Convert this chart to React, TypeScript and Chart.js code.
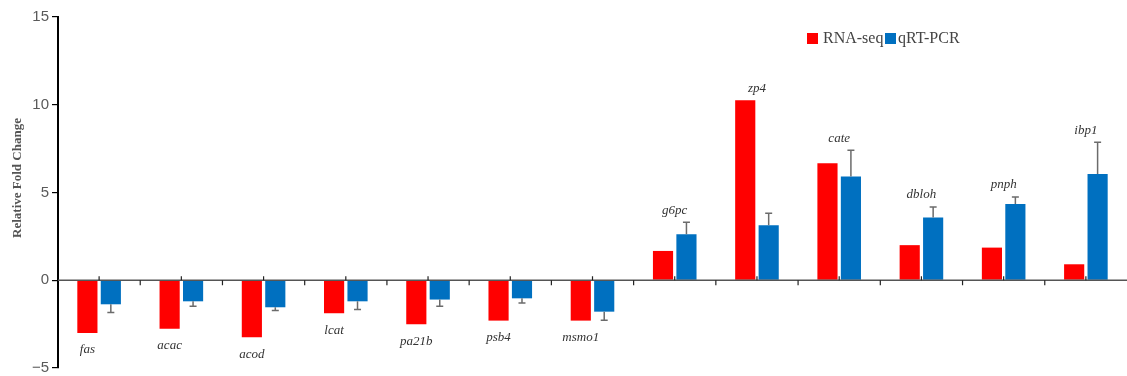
import React, { useEffect, useRef } from "react";
import { Chart, registerables } from "chart.js";

Chart.register(...registerables);

const categories = ["fas", "acac", "acod", "lcat", "pa21b", "psb4", "msmo1", "g6pc", "zp4", "cate", "dbloh", "pnph", "ibp1"];
const rnaSeq = [-3.0, -2.76, -3.25, -1.88, -2.51, -2.3, -2.3, 1.67, 10.25, 6.67, 2.0, 1.86, 0.91];
const qrtPcr = [-1.37, -1.2, -1.54, -1.2, -1.1, -1.03, -1.79, 2.62, 3.14, 5.91, 3.58, 4.35, 6.06];
const qrtPcrErr = [0.47, 0.28, 0.19, 0.47, 0.38, 0.26, 0.49, 0.68, 0.68, 1.5, 0.6, 0.4, 1.81];
const yTicks = [-5, 0, 5, 10, 15];
const seriesNames = ["RNA-seq", "qRT-PCR"];
const yTitle = "Relative Fold Change";

const RED = "#ff0000";
const BLUE = "#0070c0";

const overlayPlugin = {
  id: "overlay",
  afterDatasetsDraw(chart: any) {
    const ctx = chart.ctx;
    const y = chart.scales.y;
    const x = chart.scales.x;
    const area = chart.chartArea;
    const m0 = chart.getDatasetMeta(0);
    const m1 = chart.getDatasetMeta(1);
    const y0 = y.getPixelForValue(0);
    ctx.save();

    // error bars (one-sided, away from zero)
    ctx.strokeStyle = "#6b6b6b";
    ctx.lineWidth = 1.5;
    qrtPcr.forEach((v, i) => {
      const bar = m1.data[i];
      const end = v >= 0 ? v + qrtPcrErr[i] : v - qrtPcrErr[i];
      const py1 = y.getPixelForValue(v);
      const py2 = y.getPixelForValue(end);
      ctx.beginPath();
      ctx.moveTo(bar.x, py1);
      ctx.lineTo(bar.x, py2);
      ctx.moveTo(bar.x - 3.5, py2);
      ctx.lineTo(bar.x + 3.5, py2);
      ctx.stroke();
    });

    // x axis line at zero with ticks
    ctx.strokeStyle = "#555";
    ctx.lineWidth = 1.5;
    ctx.beginPath();
    ctx.moveTo(area.left, y0);
    ctx.lineTo(area.right, y0);
    ctx.stroke();
    ctx.strokeStyle = "#222";
    ctx.lineWidth = 1.2;
    categories.forEach((_, i) => {
      const cx = x.getPixelForValue(i);
      ctx.beginPath();
      ctx.moveTo(cx, y0);
      ctx.lineTo(cx, y0 - 4);
      ctx.stroke();
      if (i > 0) {
        const bx = (x.getPixelForValue(i - 1) + cx) / 2;
        ctx.beginPath();
        ctx.moveTo(bx, y0);
        ctx.lineTo(bx, y0 + 5);
        ctx.stroke();
      }
    });

    // gene labels
    ctx.fillStyle = "#333";
    ctx.font = "italic 13px 'Liberation Serif', 'Times New Roman', serif";
    ctx.textAlign = "center";
    ctx.textBaseline = "middle";
    categories.forEach((name, i) => {
      const r = rnaSeq[i];
      const q = qrtPcr[i];
      if (r < 0) {
        const bar = m0.data[i];
        ctx.fillText(name, bar.x, y.getPixelForValue(r) + 17);
      } else {
        const top = Math.max(r, q + qrtPcrErr[i]);
        ctx.fillText(name, x.getPixelForValue(i), y.getPixelForValue(top) - 12);
      }
    });

    // legend
    ctx.font = "16px 'Liberation Serif', 'Times New Roman', serif";
    ctx.textAlign = "left";
    ctx.fillStyle = RED;
    ctx.fillRect(807, 33, 11, 11);
    ctx.fillStyle = "#444";
    ctx.fillText(seriesNames[0], 823, 38.5);
    ctx.fillStyle = BLUE;
    ctx.fillRect(885, 33, 11, 11);
    ctx.fillStyle = "#444";
    ctx.fillText(seriesNames[1], 898, 38.5);

    // y title
    ctx.save();
    ctx.translate(18, 178);
    ctx.rotate(-Math.PI / 2);
    ctx.textAlign = "center";
    ctx.font = "bold 13px 'Liberation Serif', 'Times New Roman', serif";
    ctx.fillStyle = "#555";
    ctx.fillText(yTitle, 0, 0);
    ctx.restore();

    ctx.restore();
  },
};

export default function App() {
  const ref = useRef<HTMLCanvasElement>(null);
  useEffect(() => {
    document.body.style.margin = "0";
    const chart = new Chart(ref.current!, {
      type: "bar",
      data: {
        labels: categories,
        datasets: [
          { label: seriesNames[0], data: rnaSeq, backgroundColor: RED, categoryPercentage: 0.57, barPercentage: 0.86 },
          { label: seriesNames[1], data: qrtPcr, backgroundColor: BLUE, categoryPercentage: 0.57, barPercentage: 0.86 },
        ],
      },
      options: {
        animation: false,
        responsive: false,
        layout: { padding: { top: 17, bottom: 8, left: 0, right: 0 } },
        plugins: { legend: { display: false }, tooltip: { enabled: false } },
        scales: {
          x: { display: false, offset: true },
          y: {
            min: -5,
            max: 15,
            afterFit: (s: any) => {
              s.width = 58;
              s.paddingTop = 0;
              s.paddingBottom = 0;
            },
            afterBuildTicks: (s: any) => {
              s.ticks = yTicks.map((v) => ({ value: v }));
            },
            border: { display: true, color: "#000", width: 2 },
            grid: { display: true, drawOnChartArea: false, drawTicks: true, tickLength: 6, color: "#000", lineWidth: 1.2 },
            ticks: {
              padding: 3,
              color: "#5a5a5a",
              font: { family: "'Liberation Sans', Arial, sans-serif", size: 15, lineHeight: 1 },
              callback: (v: any) => String(v).replace("-", "\u2212"),
            },
          },
        },
      },
      plugins: [overlayPlugin],
    });
    return () => chart.destroy();
  }, []);
  return <canvas ref={ref} width={1127} height={376} style={{ display: "block" }} />;
}
